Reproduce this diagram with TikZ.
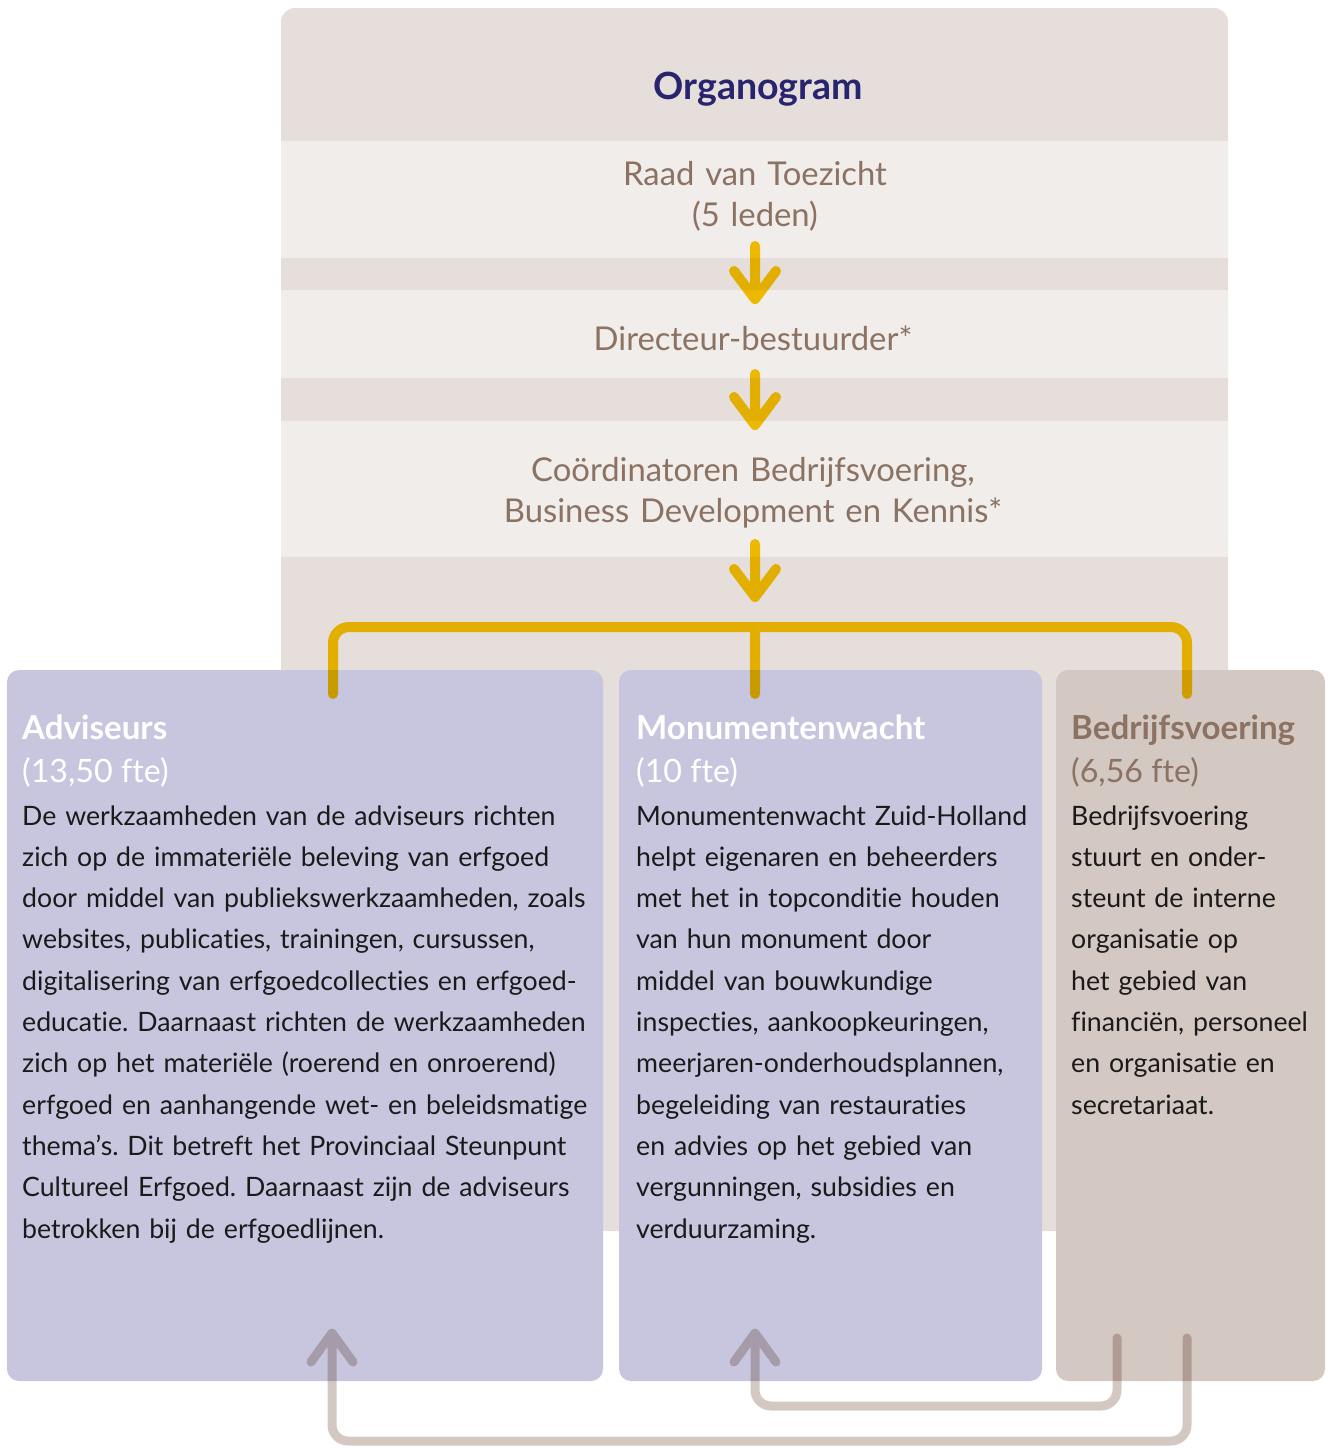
\documentclass[tikz,border=0pt]{standalone}
\usepackage{fontspec}
\setmainfont{Lato}[Ligatures=NoCommon]
\usetikzlibrary{calc}
\frenchspacing
\definecolor{panel}{HTML}{E5DEDB}
\definecolor{band}{HTML}{F0EDEA}
\definecolor{brownt}{HTML}{8B7262}
\definecolor{navy}{HTML}{28246E}
\definecolor{lav}{HTML}{C8C6DF}
\definecolor{beige}{HTML}{D4C8C2}
\definecolor{gold}{HTML}{FCC800}
\definecolor{bodyt}{HTML}{1A1A1A}
\newcommand\bodyfnt{\fontsize{26.7}{41.3}\selectfont}
\begin{document}
\begin{tikzpicture}[x=1pt,y=-1pt,
  goldln/.style={draw=gold,line width=10pt,line cap=round,line join=round,blend mode=multiply},
  greyln/.style={draw=beige,line width=9pt,line cap=round,line join=round,blend mode=multiply},
  ctext/.style={text=brownt,font=\fontsize{32.8}{41}\selectfont,inner sep=0pt,text width=900pt,align=center,anchor=base},
  headf/.style={font=\fontsize{33.1}{42}\bfseries\selectfont,inner sep=0pt,anchor=base west},
  ftef/.style={font=\fontsize{32.2}{42}\selectfont,inner sep=0pt,anchor=base west},
  bodyf/.style={text=bodyt,font=\bodyfnt,inner sep=0pt,anchor=base west,text width=600pt,align=left},
  box/.style={rounded corners=12pt}]
\useasboundingbox (0,0) rectangle (1328,1448);
% panel
\fill[panel,rounded corners=14pt] (281,8) rectangle (1228,1231);
\fill[band] (281,141) rectangle (1228,258);
\fill[band] (281,290) rectangle (1228,378);
\fill[band] (281,421) rectangle (1228,557);
% header texts
\node[text=navy,font=\fontsize{37.5}{40}\bfseries\selectfont,inner sep=0pt,anchor=base] (title) at (758,99) {Organogram};
\node[ctext] (raad) at (755,185) {Raad van Toezicht\\(5 leden)};
\node[ctext] (dir) at (753,350) {Directeur-bestuurder*};
\node[ctext] (coord) at (753,481) {Coördinatoren Bedrijfsvoering,\\Business Development en Kennis*};
% boxes
\fill[lav,box] (7,670) rectangle (603,1381);
\fill[lav,box] (619,670) rectangle (1042,1381);
\fill[beige,box] (1056,670) rectangle (1325,1381);
% arrows
\coordinate (a1s) at (755,246); \coordinate (a1t) at (755,299);
\coordinate (a2s) at (755,374); \coordinate (a2t) at (755,425);
\coordinate (a3s) at (755,544); \coordinate (a3t) at (755,597);
\draw[goldln] (a1s) -- (a1t) ($(a1t)+(-21,-28)$) -- (a1t) -- ($(a1t)+(21,-28)$);
\draw[goldln] (a2s) -- (a2t) ($(a2t)+(-21,-28)$) -- (a2t) -- ($(a2t)+(21,-28)$);
\draw[goldln] (a3s) -- (a3t) ($(a3t)+(-21,-28)$) -- (a3t) -- ($(a3t)+(21,-28)$);
\coordinate (bl) at (333,694); \coordinate (bm) at (755,694); \coordinate (br) at (1187,694);
\draw[goldln,rounded corners=16pt] (bl) -- (333,627) -- (1187,627) -- (br) (755,627) -- (bm);
% box texts
\node[headf,text=white] (advh) at (22,739) {Adviseurs};
\node[ftef,text=white] (advf) at (22,782) {(13,50 fte)};
\node[bodyf] (advb) at (22,825) {De werkzaamheden van de adviseurs richten\\
zich op de immateriële beleving van erfgoed\\
door middel van publiekswerkzaamheden, zoals\\
websites, publicaties, trainingen, cursussen,\\
digitalisering van erfgoedcollecties en erfgoed-\\
educatie. Daarnaast richten de werkzaamheden\\
zich op het materiële (roerend en onroerend)\\
erfgoed en aanhangende wet- en beleidsmatige\\
thema’s. Dit betreft het Provinciaal Steunpunt\\
Cultureel Erfgoed. Daarnaast zijn de adviseurs\\
betrokken bij de erfgoedlijnen.};
\node[headf,text=white] (monh) at (636,739) {Monumentenwacht};
\node[ftef,text=white] (monf) at (636,782) {(10 fte)};
\node[bodyf] (monb) at (636,825) {Monumentenwacht Zuid-Holland\\
helpt eigenaren en beheerders\\
met het in topconditie houden\\
van hun monument door\\
middel van bouwkundige\\
inspecties, aankoopkeuringen,\\
meerjaren-onderhoudsplannen,\\
begeleiding van restauraties\\
en advies op het gebied van\\
vergunningen, subsidies en\\
verduurzaming.};
\node[headf,text=brownt] (bedh) at (1071,739) {Bedrijfsvoering};
\node[ftef,text=brownt] (bedf) at (1071,782) {(6,56 fte)};
\node[bodyf] (bedb) at (1071,825) {Bedrijfsvoering\\
stuurt en onder-\\
steunt de interne\\
organisatie op\\
het gebied van\\
financiën, personeel\\
en organisatie en\\
secretariaat.};
% bottom arrows
\coordinate (o1) at (1187,1338); \coordinate (o1t) at (332,1333);
\coordinate (o2) at (1117,1338); \coordinate (o2t) at (755,1333);
\draw[greyln] (o1) [rounded corners=16pt] -- (1187,1441) -- (332,1441) -- (o1t) [sharp corners] ($(o1t)+(-21,29)$) -- (o1t) -- ($(o1t)+(21,29)$);
\draw[greyln] (o2) [rounded corners=16pt] -- (1117,1406) -- (755,1406) -- (o2t) [sharp corners] ($(o2t)+(-21,29)$) -- (o2t) -- ($(o2t)+(21,29)$);
\end{tikzpicture}
\end{document}
